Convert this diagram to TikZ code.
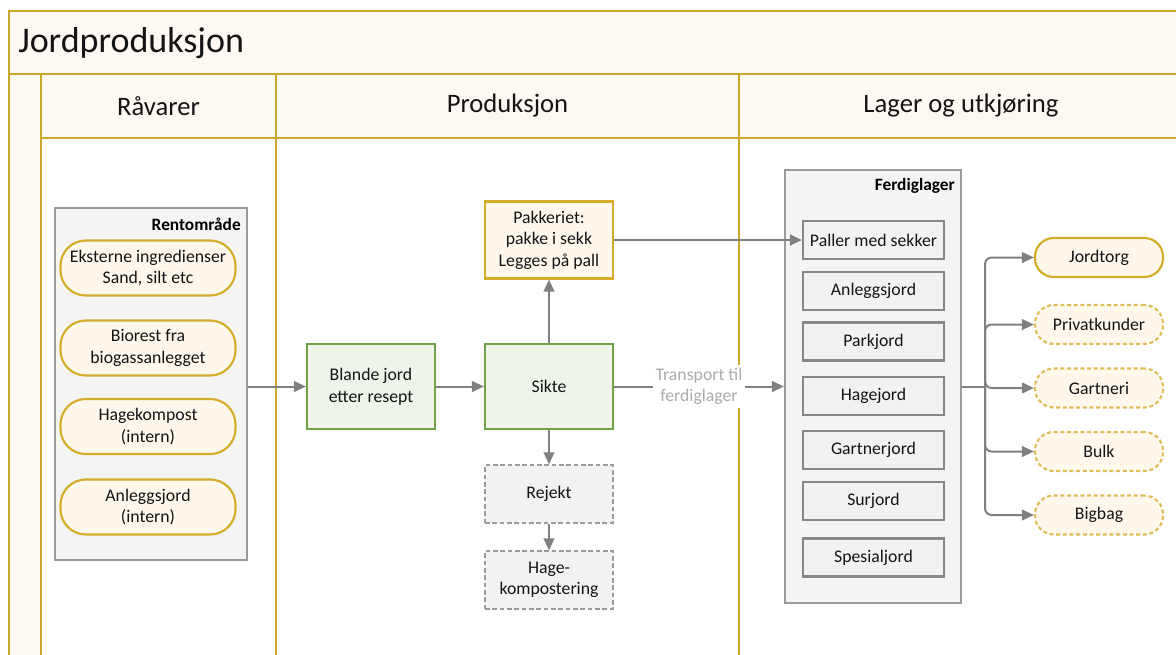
\documentclass[tikz,border=0pt]{standalone}
\usepackage{fontspec}
\setmainfont{Carlito}
\usetikzlibrary{arrows.meta}

\definecolor{lanegold}{RGB}{203,168,40}
\definecolor{lanecream}{RGB}{253,249,242}
\definecolor{pillfill}{RGB}{254,247,235}
\definecolor{pillgold}{RGB}{212,172,40}
\definecolor{dashgold}{RGB}{222,190,90}
\definecolor{panelfill}{RGB}{244,244,244}
\definecolor{paneledge}{RGB}{155,155,155}
\definecolor{boxfill}{RGB}{242,242,242}
\definecolor{boxedge}{RGB}{135,135,135}
\definecolor{arrowgray}{RGB}{128,128,128}
\definecolor{greenedge}{RGB}{112,163,72}
\definecolor{greenfill}{RGB}{238,244,234}
\definecolor{labelgray}{RGB}{172,172,172}
\definecolor{ink}{RGB}{20,20,20}

\begin{document}
\begin{tikzpicture}[x=0.75pt,y=-0.75pt,
  txt/.style={font=\fontsize{13.3pt}{16.2pt}\selectfont, text=ink, align=center, inner sep=0pt},
  lane/.style={draw=lanegold, line width=2.1pt},
  panel/.style={draw=paneledge, line width=1.6pt, fill=panelfill, inner sep=0pt},
  paneltitle/.style={font=\bfseries\fontsize{13pt}{15pt}\selectfont, text=black, inner sep=0pt},
  srcpill/.style={txt, draw=pillgold, line width=1.6pt, fill=pillfill, rounded corners=19pt,
    minimum width=131.25pt, minimum height=41.25pt},
  outpill/.style={txt, draw=pillgold, line width=1.6pt, fill=pillfill, rounded corners=14pt,
    minimum width=96pt, minimum height=29.25pt},
  outdash/.style={outpill, draw=dashgold, dash pattern=on 3pt off 2pt},
  greenbox/.style={txt, draw=greenedge, line width=1.6pt, fill=greenfill,
    minimum width=96pt, minimum height=63.75pt},
  packbox/.style={txt, draw=pillgold, line width=1.6pt, fill=pillfill,
    minimum width=96pt, minimum height=57.75pt},
  dashbox/.style={txt, draw=paneledge, line width=1.6pt, fill=boxfill, dash pattern=on 3.5pt off 2pt,
    minimum width=96pt, minimum height=43pt},
  stockbox/.style={txt, draw=boxedge, line width=1.6pt, fill=boxfill,
    minimum width=105.75pt, minimum height=28.5pt},
  arr/.style={draw=arrowgray, line width=1.5pt, -{Triangle[length=9pt,width=8pt]}},
]
\useasboundingbox (0,0) rectangle (1176,654);
\clip (0,0) rectangle (1176,654);

% swimlane frame
\fill[lanecream] (9,11) rectangle (1195,74);
\fill[lanecream] (41,74) rectangle (1195,138);
\fill[lanecream] (9,74) rectangle (41,670);
\draw[lane] (9,670) -- (9,11) -- (1195,11);
\draw[lane] (9,74) -- (1195,74);
\draw[lane] (41,138) -- (1195,138);
\draw[lane] (41,74) -- (41,670);
\draw[lane] (276,74) -- (276,670);
\draw[lane] (739,74) -- (739,670);

\node[anchor=west, inner sep=0pt, font=\fontsize{27pt}{30pt}\selectfont, text=ink] (title) at (18,43) {Jordproduksjon};
\node[inner sep=0pt, font=\fontsize{20pt}{24pt}\selectfont, text=ink] (hraw) at (158.5,106) {Råvarer};
\node[inner sep=0pt, font=\fontsize{20pt}{24pt}\selectfont, text=ink] (hprod) at (507.5,106) {Produksjon};
\node[inner sep=0pt, font=\fontsize{20pt}{24pt}\selectfont, text=ink] (hstore) at (961,106) {Lager og utkjøring};

% raw materials
\node[panel, minimum width=144pt, minimum height=264pt] (rent) at (151,384) {};
\node[paneltitle, anchor=east] (renttitle) at (241,224) {Rentområde};
\node[srcpill] (ext) at (148,268) {Eksterne ingredienser\\Sand, silt etc};
\node[srcpill] (bio) at (148,348) {Biorest fra\\biogassanlegget};
\node[srcpill] (hk) at (148,426.5) {Hagekompost\\(intern)};
\node[srcpill] (anl) at (148,507) {Anleggsjord\\(intern)};

% production
\node[greenbox] (blande) at (371,386.5) {Blande jord\\etter resept};
\node[greenbox] (sikte) at (549,386.5) {Sikte};
\node[packbox] (pakk) at (549,240) {Pakkeriet:\\pakke i sekk\\Legges på pall};
\node[dashbox] (rejekt) at (549,494) {Rejekt};
\node[dashbox] (hagekomp) at (549,580) {Hage-\\kompostering};

% finished goods storage
\node[panel, minimum width=132pt, minimum height=324.75pt] (ferd) at (873,386.5) {};
\node[paneltitle, anchor=east] (ferdtitle) at (955,186) {Ferdiglager};
\node[stockbox] (paller) at (873.5,240) {Paller med sekker};
\node[stockbox] (sanl) at (873.5,291) {Anleggsjord};
\node[stockbox] (park) at (873.5,341.5) {Parkjord};
\node[stockbox] (hage) at (873.5,396) {Hagejord};
\node[stockbox] (gart) at (873.5,450) {Gartnerjord};
\node[stockbox] (sur) at (873.5,501) {Surjord};
\node[stockbox] (spes) at (873.5,557.5) {Spesialjord};

% outlets
\node[outpill] (torg) at (1099,257.5) {Jordtorg};
\node[outdash] (priv) at (1099,324.5) {Privatkunder};
\node[outdash] (gartneri) at (1099,388) {Gartneri};
\node[outdash] (bulk) at (1099,451.5) {Bulk};
\node[outdash] (bigbag) at (1099,515) {Bigbag};

% flows
\draw[arr] (blande.west -| rent.east) -- (blande.west);
\draw[arr] (blande) -- (sikte);
\draw[arr] (sikte) -- (pakk);
\draw[arr] (sikte) -- (rejekt);
\draw[arr] (rejekt) -- (hagekomp);
\draw[arr] (pakk.east) -- (paller.west);
\draw[arr] (sikte.east) -- node[fill=white, inner sep=2pt, align=center, text=labelgray,
  font=\fontsize{13.3pt}{16pt}\selectfont] (transport) {Transport til\\ferdiglager} (ferd.west);

\coordinate (hub) at (985,386.5);
\draw[draw=arrowgray, line width=1.5pt] (ferd.east) -- (hub);
\foreach \t in {torg,priv,gartneri,bulk,bigbag}
  \draw[arr, rounded corners=5pt] (hub) |- (\t.west);
\end{tikzpicture}
\end{document}
